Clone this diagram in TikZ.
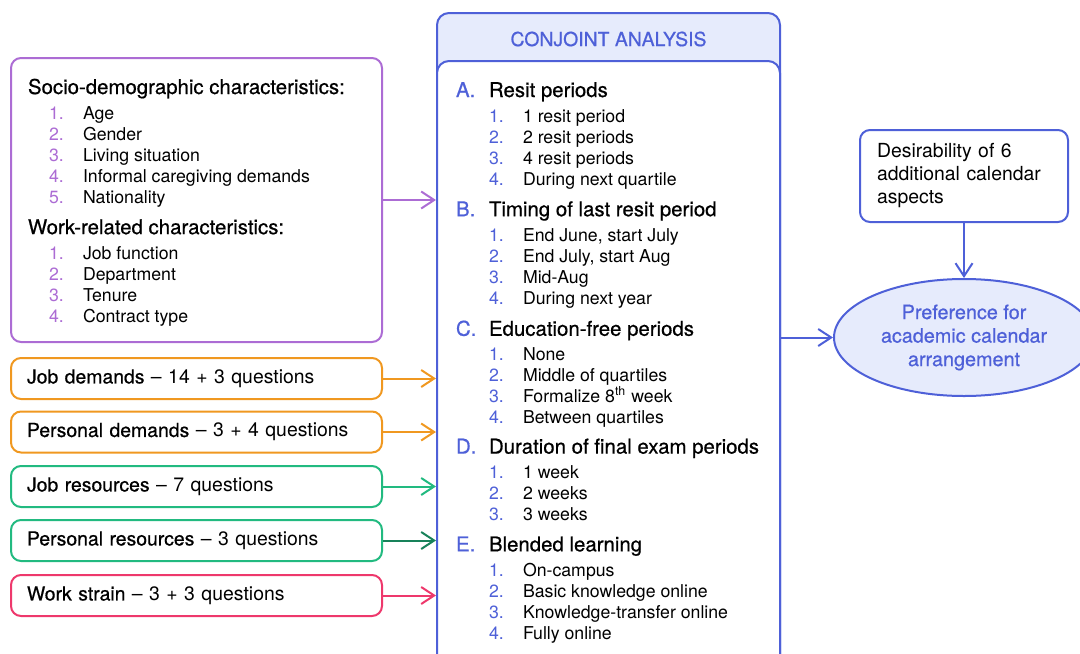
\documentclass[tikz,border=0pt]{standalone}
\usepackage{fontspec}
\setmainfont{TeX Gyre Heros}
\newfontfamily\medfont{TeX Gyre Heros}[FakeBold=0.6]
\usepackage{array}
\usetikzlibrary{shapes.geometric}
\usetikzlibrary{arrows.meta}

\definecolor{cpurple}{RGB}{172,108,212}
\definecolor{cblue}{RGB}{78,96,216}
\definecolor{clight}{RGB}{230,235,252}
\definecolor{corange}{RGB}{240,152,32}
\definecolor{cgreen}{RGB}{34,186,128}
\definecolor{cred}{RGB}{238,56,108}

\newcommand{\headfont}{\medfont\fontsize{10.2}{10.5}\selectfont}
\newcommand{\pnum}[1]{\textcolor{cpurple}{#1}}
\newcommand{\bnum}[1]{\textcolor{cblue}{#1}}

\begin{document}
\begin{tikzpicture}[x=0.5pt, y=-0.5pt, line width=1pt, >={Straight Barb[length=6.5pt,width=8.5pt]}]
	\tikzstyle{panel}=[draw, rounded corners=5pt, line width=1pt, fill=white]
	\tikzstyle{factor}=[panel, minimum height=20.5pt, inner xsep=8pt, inner ysep=0pt, text width=169.5pt, align=left, font=\fontsize{9.7}{11}\selectfont]
	\tikzstyle{listing}=[inner sep=0pt, anchor=base west, font=\fontsize{8.85}{10.5}\selectfont]
	\tikzstyle{link}=[->, line width=1pt]

	\useasboundingbox (0,0) rectangle (1080,653);
	\clip (0,0) rectangle (1080,653);

	% Draw the characteristics box
	\node[panel, draw=cpurple, minimum width=185.5pt, minimum height=142pt] (socio) at (196.5,200) {};
	\node[listing] (sociotext) at (27,94) {\begin{tabular}[t]{@{\hspace{10.5pt}}p{17pt}@{}l@{}}
		\multicolumn{2}{@{}l@{}}{\headfont Socio-demographic characteristics:}\\[2pt]
		\pnum{1.} & Age\\
		\pnum{2.} & Gender\\
		\pnum{3.} & Living situation\\
		\pnum{4.} & Informal caregiving demands\\
		\pnum{5.} & Nationality\\[5pt]
		\multicolumn{2}{@{}l@{}}{\headfont Work-related characteristics:}\\[2pt]
		\pnum{1.} & Job function\\
		\pnum{2.} & Department\\
		\pnum{3.} & Tenure\\
		\pnum{4.} & Contract type
	\end{tabular}};

	% Draw the question blocks
	\node[factor, draw=corange] (jobdem) at (196.5,378.5) {{\medfont Job demands} -- 14 + 3 questions};
	\node[factor, draw=corange] (persdem) at (196.5,432) {{\medfont Personal demands} -- 3 + 4 questions};
	\node[factor, draw=cgreen] (jobres) at (196.5,486.5) {{\medfont Job resources} -- 7 questions};
	\node[factor, draw=cgreen] (persres) at (196.5,540.5) {{\medfont Personal resources} -- 3 questions};
	\node[factor, draw=cred] (strain) at (196.5,595.5) {{\medfont Work strain} -- 3 + 3 questions};

	% Draw the conjoint analysis
	\node[panel, draw=cblue, fill=clight, rounded corners=6pt, minimum width=171.5pt, minimum height=343.5pt] (ca) at (608.5,356.5) {};
	\node[panel, draw=cblue, rounded corners=6pt, minimum width=171.5pt, minimum height=319.5pt] (cabody) at (608.5,380.5) {};
	\node[text=cblue, font=\medfont\fontsize{9.7}{11}\selectfont] (catitle) at (608.5,39) {CONJOINT ANALYSIS};
	\node[listing] (catext) at (455,97) {\begin{tabular}[t]{@{}p{16.5pt}@{}p{17pt}@{}l@{}}
		\bnum{\headfont A.} & \multicolumn{2}{@{}l@{}}{\headfont Resit periods}\\[2pt]
		& \bnum{1.} & 1 resit period\\
		& \bnum{2.} & 2 resit periods\\
		& \bnum{3.} & 4 resit periods\\
		& \bnum{4.} & During next quartile\\[5pt]
		\bnum{\headfont B.} & \multicolumn{2}{@{}l@{}}{\headfont Timing of last resit period}\\[2pt]
		& \bnum{1.} & End June, start July\\
		& \bnum{2.} & End July, start Aug\\
		& \bnum{3.} & Mid-Aug\\
		& \bnum{4.} & During next year\\[5pt]
		\bnum{\headfont C.} & \multicolumn{2}{@{}l@{}}{\headfont Education-free periods}\\[2pt]
		& \bnum{1.} & None\\
		& \bnum{2.} & Middle of quartiles\\
		& \bnum{3.} & Formalize 8\smash{\textsuperscript{th}} week\\
		& \bnum{4.} & Between quartiles\\[4.3pt]
		\bnum{\headfont D.} & \multicolumn{2}{@{}l@{}}{\headfont Duration of final exam periods}\\[2pt]
		& \bnum{1.} & 1 week\\
		& \bnum{2.} & 2 weeks\\
		& \bnum{3.} & 3 weeks\\[4.8pt]
		\bnum{\headfont E.} & \multicolumn{2}{@{}l@{}}{\headfont Blended learning}\\[2pt]
		& \bnum{1.} & On-campus\\
		& \bnum{2.} & Basic knowledge online\\
		& \bnum{3.} & Knowledge-transfer online\\
		& \bnum{4.} & Fully online
	\end{tabular}};

	% Draw the outcome
	\node[panel, draw=cblue, minimum width=104pt, minimum height=46pt, text width=87pt, inner xsep=8.5pt, align=left, font=\fontsize{9.7}{11.5}\selectfont] (extra) at (964,176) {Desirability of 6\\additional calendar\\aspects};
	\node[ellipse, draw=cblue, fill=clight, minimum width=130pt, minimum height=58.5pt, inner sep=0pt, text=cblue, align=center, font=\medfont\fontsize{9.9}{11.75}\selectfont] (pref) at (964,337.5) {Preference for\\academic calendar\\arrangement};

	% Draw arrows
	\path[link, draw=cpurple] (socio) edge (socio -| cabody.west);
	\path[link, draw=corange] (jobdem) edge (jobdem -| cabody.west);
	\path[link, draw=corange] (persdem) edge (persdem -| cabody.west);
	\path[link, draw=cgreen] (jobres) edge (jobres -| cabody.west);
	\path[link, draw=cgreen!70!black] (persres) edge (persres -| cabody.west);
	\path[link, draw=cred] (strain) edge (strain -| cabody.west);
	\draw[link, draw=cblue] (cabody.east |- pref) -- (pref.west);
	\path[link, draw=cblue] (extra) edge (pref);
\end{tikzpicture}
\end{document}
